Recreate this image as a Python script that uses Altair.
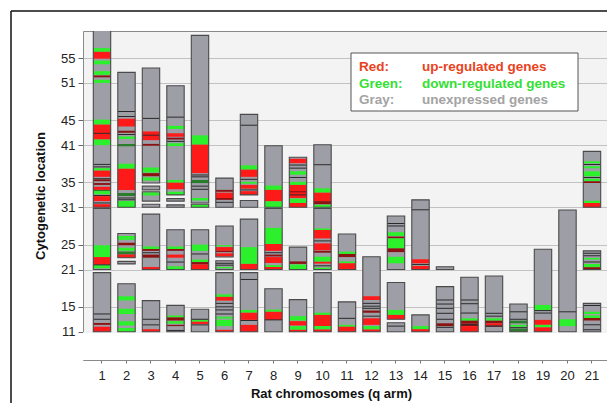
import altair as alt
import pandas as pd

CHROMS = list(range(1, 22))
Y_TICKS = [11, 15, 21, 25, 31, 35, 41, 45, 51, 55]
Y_DOMAIN = [6.45, 59.35]

# gray (outlined) chromosome blocks: (chromosome, start band, end band)
BLOCKS = [
    (1, 31.0, 62.0), (1, 21.0, 30.8), (1, 11.0, 20.5),
    (2, 31.0, 52.7), (2, 22.9, 26.8), (2, 21.9, 22.3), (2, 11.0, 18.7),
    (3, 34.9, 53.4), (3, 33.8, 34.4), (3, 32.0, 33.5), (3, 31.0, 31.5), (3, 21.0, 29.9), (3, 11.0, 16.0),
    (4, 33.0, 50.55), (4, 32.0, 32.4), (4, 31.0, 31.4), (4, 21.0, 27.4), (4, 11.0, 15.24),
    (5, 31.7, 58.65), (5, 31.0, 31.5), (5, 21.0, 27.4), (5, 11.0, 14.6),
    (6, 31.0, 35.7), (6, 23.0, 28.0), (6, 21.0, 22.4), (6, 11.0, 20.5),
    (7, 33.0, 45.95), (7, 31.0, 32.1), (7, 21.0, 29.1), (7, 11.0, 20.5),
    (8, 31.0, 40.9), (8, 21.0, 30.8), (8, 11.0, 17.9),
    (9, 31.0, 39.05), (9, 21.0, 24.6), (9, 11.0, 16.15),
    (10, 31.0, 41.05), (10, 21.0, 30.8), (10, 11.0, 20.5),
    (11, 21.0, 26.7), (11, 11.0, 15.8),
    (12, 11.0, 23.05),
    (13, 21.0, 29.6), (13, 13.0, 18.9), (13, 11.0, 12.45),
    (14, 21.0, 32.2), (14, 11.0, 13.7),
    (15, 21.0, 21.45), (15, 11.0, 18.24),
    (16, 11.0, 19.75),
    (17, 11.0, 19.95),
    (18, 11.0, 15.45),
    (19, 11.0, 24.25),
    (20, 11.0, 30.57),
    (21, 31.0, 40.0), (21, 21.0, 24.0), (21, 11.0, 15.56),
]

# coloured bands: R = up-regulated, G = down-regulated, r / g = darker shades
BANDS = [
    (1, 56.0, 56.6, "G"), (1, 54.9, 56.0, "R"), (1, 54.0, 54.6, "G"), (1, 52.3, 52.9, "G"),
    (1, 51.9, 52.2, "r"), (1, 51.0, 51.5, "G"), (1, 44.3, 45.1, "G"), (1, 41.9, 44.3, "R"),
    (1, 41.0, 41.9, "G"), (1, 36.9, 37.3, "G"), (1, 35.9, 36.9, "R"), (1, 35.2, 35.5, "r"),
    (1, 34.6, 34.9, "r"), (1, 33.8, 34.3, "R"), (1, 33.6, 33.8, "g"), (1, 33.1, 33.6, "G"),
    (1, 32.0, 32.8, "R"), (1, 31.0, 31.5, "R"), (1, 23.0, 24.9, "G"), (1, 21.8, 23.0, "R"),
    (1, 21.2, 21.7, "G"), (1, 12.1, 12.4, "r"), (1, 11.0, 11.8, "R"),
    (2, 44.0, 45.25, "R"), (2, 43.0, 43.3, "r"), (2, 42.0, 42.4, "G"), (2, 40.8, 41.2, "g"),
    (2, 37.2, 38.0, "G"), (2, 33.8, 37.2, "R"), (2, 32.8, 33.3, "g"), (2, 31.0, 32.0, "G"),
    (2, 25.8, 26.4, "G"), (2, 24.9, 25.3, "r"), (2, 24.0, 24.5, "G"), (2, 23.4, 23.9, "g"),
    (2, 22.9, 23.4, "R"), (2, 16.0, 16.7, "G"), (2, 13.85, 14.7, "G"), (2, 12.0, 12.7, "G"),
    (2, 11.0, 11.6, "G"),
    (3, 41.8, 43.2, "R"), (3, 40.9, 41.2, "r"), (3, 36.6, 37.4, "G"), (3, 36.0, 36.5, "r"),
    (3, 35.3, 35.8, "G"), (3, 32.9, 33.4, "G"), (3, 24.3, 24.7, "G"), (3, 24.0, 24.3, "r"),
    (3, 22.9, 23.4, "r"), (3, 21.0, 21.4, "R"), (3, 11.0, 11.4, "R"),
    (4, 43.6, 44.1, "G"), (4, 42.35, 42.9, "R"), (4, 41.9, 42.2, "r"), (4, 40.85, 41.3, "G"),
    (4, 34.96, 35.4, "G"), (4, 33.9, 34.96, "R"), (4, 33.0, 33.5, "G"), (4, 24.3, 24.7, "G"),
    (4, 24.0, 24.3, "r"), (4, 22.9, 23.4, "R"), (4, 21.0, 21.5, "G"), (4, 13.3, 13.6, "G"),
    (4, 12.8, 13.3, "r"), (4, 12.3, 12.7, "G"), (4, 11.9, 12.1, "r"),
    (5, 41.07, 42.57, "G"), (5, 36.5, 41.07, "R"), (5, 34.9, 35.4, "g"), (5, 32.1, 32.5, "G"),
    (5, 31.0, 31.4, "G"), (5, 24.0, 25.0, "G"), (5, 22.2, 22.6, "G"), (5, 21.8, 22.2, "r"),
    (5, 21.0, 21.8, "R"), (5, 12.6, 12.9, "G"), (5, 12.25, 12.6, "R"),
    (6, 33.5, 33.8, "r"), (6, 32.5, 33.35, "R"), (6, 32.2, 32.5, "r"), (6, 24.7, 24.9, "G"),
    (6, 24.0, 24.6, "R"), (6, 23.8, 24.0, "r"), (6, 23.1, 23.6, "R"), (6, 21.2, 21.4, "G"),
    (6, 16.6, 17.0, "G"), (6, 16.0, 16.6, "R"), (6, 13.1, 13.4, "G"), (6, 11.9, 12.9, "G"),
    (6, 11.0, 11.3, "R"),
    (7, 37.05, 37.75, "G"), (7, 35.9, 37.05, "R"), (7, 34.8, 35.1, "G"), (7, 34.0, 34.6, "R"),
    (7, 33.0, 33.6, "R"), (7, 21.9, 24.6, "G"), (7, 21.0, 21.9, "R"), (7, 14.05, 14.5, "G"),
    (7, 12.9, 14.05, "R"), (7, 11.0, 12.1, "R"),
    (8, 33.8, 34.5, "G"), (8, 31.96, 33.8, "R"), (8, 31.0, 31.96, "G"), (8, 25.1, 27.7, "G"),
    (8, 24.0, 25.1, "R"), (8, 23.1, 23.4, "r"), (8, 22.05, 23.0, "R"), (8, 21.4, 21.7, "G"),
    (8, 21.0, 21.4, "R"), (8, 14.2, 14.55, "G"), (8, 12.9, 14.2, "R"),
    (9, 38.1, 38.8, "R"), (9, 36.25, 36.8, "G"), (9, 34.6, 35.1, "G"), (9, 32.5, 34.6, "R"),
    (9, 33.4, 33.6, "r"), (9, 31.7, 32.4, "G"), (9, 31.0, 31.7, "R"), (9, 21.9, 22.3, "r"),
    (9, 21.0, 21.8, "G"), (9, 12.8, 13.5, "G"), (9, 12.0, 12.7, "R"), (9, 11.3, 11.9, "G"),
    (9, 11.0, 11.3, "R"),
    (10, 33.35, 34.05, "G"), (10, 32.0, 33.35, "R"), (10, 31.5, 32.0, "r"), (10, 31.0, 31.4, "G"),
    (10, 27.35, 27.6, "G"), (10, 26.0, 27.35, "R"), (10, 24.1, 25.2, "R"), (10, 23.7, 24.0, "r"),
    (10, 22.25, 23.05, "G"), (10, 21.95, 22.25, "R"), (10, 21.0, 21.3, "G"), (10, 13.7, 14.05, "G"),
    (10, 11.9, 13.7, "R"), (10, 11.35, 11.9, "G"), (10, 11.0, 11.35, "R"),
    (11, 23.5, 23.86, "G"), (11, 23.0, 23.5, "r"), (11, 22.0, 22.3, "G"), (11, 21.0, 22.0, "R"),
    (11, 11.8, 12.1, "G"), (11, 11.0, 11.8, "R"),
    (12, 16.1, 16.7, "R"), (12, 14.05, 14.4, "r"), (12, 12.1, 13.15, "R"), (12, 11.35, 11.9, "G"),
    (12, 11.0, 11.35, "R"),
    (13, 26.4, 27.0, "G"), (13, 26.0, 26.3, "r"), (13, 24.4, 26.0, "G"), (13, 23.8, 24.4, "r"),
    (13, 22.0, 23.05, "G"), (13, 13.7, 14.5, "G"), (13, 13.0, 13.7, "R"),
    (14, 22.0, 22.65, "R"), (14, 21.0, 21.56, "R"), (14, 11.4, 11.9, "G"), (14, 11.0, 11.4, "R"),
    (15, 11.9, 12.35, "r"),
    (16, 12.77, 13.15, "G"), (16, 12.35, 12.77, "r"), (16, 11.9, 12.35, "r"), (16, 11.0, 11.9, "R"),
    (17, 12.77, 13.15, "G"), (17, 12.35, 12.77, "r"), (17, 12.0, 12.35, "R"), (17, 11.8, 12.0, "r"),
    (18, 12.35, 12.77, "g"), (18, 11.8, 12.1, "G"), (18, 11.0, 11.5, "g"),
    (19, 14.5, 15.3, "G"), (19, 12.1, 12.9, "R"), (19, 11.7, 12.1, "G"), (19, 11.0, 11.7, "R"),
    (20, 11.9, 13.0, "G"),
    (21, 38.1, 38.4, "G"), (21, 37.3, 37.6, "G"), (21, 36.0, 36.8, "G"), (21, 35.2, 35.6, "G"),
    (21, 34.9, 35.2, "r"), (21, 31.7, 32.07, "G"), (21, 31.0, 31.7, "R"), (21, 22.6, 22.85, "G"),
    (21, 21.35, 21.9, "G"), (21, 21.0, 21.35, "r"), (21, 13.85, 14.2, "G"), (21, 13.2, 13.6, "G"),
    (21, 12.8, 13.2, "r"),
]

# thin dark separators between bands: (chromosome, position)
SEPARATORS = [
    (1, 37.9), (1, 37.5), (1, 35.6), (1, 32.9), (1, 31.7), (1, 21.75), (1, 13.85), (1, 13.0), (1, 42.9),
    (2, 46.4), (2, 45.6), (2, 32.5), (2, 32.2), (2, 42.7),
    (3, 45.3), (3, 42.6), (3, 13.0), (3, 12.1), (3, 23.7),
    (4, 45.5), (4, 41.6), (4, 22.2), (4, 11.2),
    (5, 36.2), (5, 35.9), (5, 34.4), (5, 33.9), (5, 13.0), (5, 12.1), (5, 23.5),
    (6, 31.8), (6, 22.0), (6, 21.7), (6, 15.56), (6, 15.0), (6, 14.5), (6, 13.85),
    (7, 44.2), (7, 19.4), (7, 12.8), (7, 35.5), (7, 33.8),
    (8, 23.7), (8, 12.9),
    (9, 37.8), (9, 37.3), (9, 35.8), (9, 33.0),
    (10, 37.85), (10, 25.6), (10, 21.6),
    (11, 13.15),
    (12, 15.56), (12, 15.1), (12, 14.76), (12, 13.5),
    (13, 28.4), (13, 28.0), (13, 11.9),
    (14, 30.6), (14, 21.8),
    (15, 16.1), (15, 15.45), (15, 14.76), (15, 13.96), (15, 13.0), (15, 11.7),
    (16, 16.1), (16, 15.5), (16, 14.0), (16, 12.1),
    (17, 13.96), (17, 13.5), (17, 11.9),
    (18, 14.2), (18, 13.0), (18, 11.65),
    (19, 14.0), (19, 14.4),
    (20, 14.2),
    (21, 37.9), (21, 35.8), (21, 23.6), (21, 23.2), (21, 22.2), (21, 15.2), (21, 12.1), (21, 11.3),
]

LEGEND_KEYS = ["Red:", "Green:", "Gray:"]
LEGEND_LABELS = ["up-regulated genes", "down-regulated genes", "unexpressed genes"]

# ---------------- styling ----------------
W, H = 524, 329
FONT = "Liberation Sans"
KIND_DOMAIN = ["R", "G", "r", "g"]
KIND_COLORS = ["#ff1a1a", "#2cf02c", "#8c1212", "#2a7d2a"]
LEGEND_COLORS = ["#e8431e", "#33e033", "#a3a3a3"]
GRAY_FILL = "#9e9ea6"
OUTLINE = "#4a4a4a"

blocks_df = pd.DataFrame(BLOCKS, columns=["chrom", "start", "end"])
bands_df = pd.DataFrame(BANDS, columns=["chrom", "start", "end", "kind"])
sep_df = pd.DataFrame(SEPARATORS, columns=["chrom", "pos"])

xscale = alt.Scale(domain=CHROMS, paddingInner=0.29, paddingOuter=0.339, align=0.62)
yscale = alt.Scale(domain=Y_DOMAIN, nice=False, zero=False)

x_axis = alt.Axis(
    labelAngle=0, title="Rat chromosomes (q arm)", tickSize=3, tickColor="#777",
    labelPadding=6, labelFontSize=13, labelColor="#222", titleFontSize=13,
    titleFontWeight="bold", titleColor="#111", titlePadding=5, titleX=248,
    domain=False, grid=False,
)
y_axis = alt.Axis(
    values=Y_TICKS, title="Cytogenetic location", grid=True, gridColor="#c2c2c2",
    gridWidth=1, tickSize=5, tickColor="#666", labelFontSize=13, labelColor="#222",
    labelPadding=3, titleFontSize=13, titleFontWeight="bold", titleColor="#111",
    titlePadding=13, domain=False,
)

X = alt.X("chrom:O", scale=xscale, axis=x_axis)

def Yq(field):
    return alt.Y(field, type="quantitative", scale=yscale, axis=y_axis)

one = alt.Data(values=[{}])

white_below = alt.Chart(one).mark_rect(color="white").encode(
    x=alt.value(0), x2=alt.value(W),
    y=alt.Y(datum=10.93, type="quantitative", scale=yscale, axis=y_axis),
    y2=alt.datum(Y_DOMAIN[0]),
)

blocks_fill = alt.Chart(blocks_df).mark_bar(color=GRAY_FILL, clip=True).encode(
    x=X, y=Yq("start"), y2="end"
)

bands = alt.Chart(bands_df).mark_bar(clip=True).encode(
    x=X, y=Yq("start"), y2="end",
    color=alt.Color("kind:N", scale=alt.Scale(domain=KIND_DOMAIN, range=KIND_COLORS), legend=None),
)

seps = alt.Chart(sep_df).transform_calculate(
    lo="datum.pos - 0.08", hi="datum.pos + 0.08"
).mark_bar(color="#2a2a2a", clip=True).encode(
    x=X, y=Yq("lo"), y2="hi"
)

blocks_outline = alt.Chart(blocks_df).mark_bar(
    fillOpacity=0, stroke=OUTLINE, strokeWidth=1.1, clip=True
).encode(x=X, y=Yq("start"), y2="end")

legend_box = alt.Chart(one).mark_rect(fill="white", stroke="#555", strokeWidth=1).encode(
    x=alt.value(268), x2=alt.value(495), y=alt.value(22), y2=alt.value(80)
)

legend_layers = []
for i, (k, lab, col) in enumerate(zip(LEGEND_KEYS, LEGEND_LABELS, LEGEND_COLORS)):
    yy = 40 + i * 16.5
    legend_layers.append(
        alt.Chart(one).mark_text(
            align="left", baseline="alphabetic", fontSize=13.5, fontWeight="bold",
            font=FONT, color=col,
        ).encode(x=alt.value(276), y=alt.value(yy), text=alt.value(k))
    )
    legend_layers.append(
        alt.Chart(one).mark_text(
            align="left", baseline="alphabetic", fontSize=13.5, fontWeight="bold",
            font=FONT, color=col,
        ).encode(x=alt.value(339), y=alt.value(yy), text=alt.value(lab))
    )

frame_top = alt.Chart(one).mark_rule(color="#111", strokeWidth=1.5).encode(
    x=alt.value(-72), x2=alt.value(W + 20), y=alt.value(-20)
)
frame_left = alt.Chart(one).mark_rule(color="#111", strokeWidth=1.5).encode(
    x=alt.value(-72), y=alt.value(-20), y2=alt.value(H + 80)
)

chart = alt.layer(
    white_below, blocks_fill, bands, seps, blocks_outline, legend_box,
    *legend_layers, frame_top, frame_left,
).properties(
    width=W, height=H,
    padding={"left": 75, "top": 23, "right": 0, "bottom": 43},
    autosize=alt.AutoSizeParams(type="none"),
).configure(
    font=FONT, background="white",
).configure_view(
    fill="#f3f3f3", stroke="#8a8a8a", strokeWidth=1,
)

chart.save("out.html", embed_options={"renderer": "svg", "actions": False})
